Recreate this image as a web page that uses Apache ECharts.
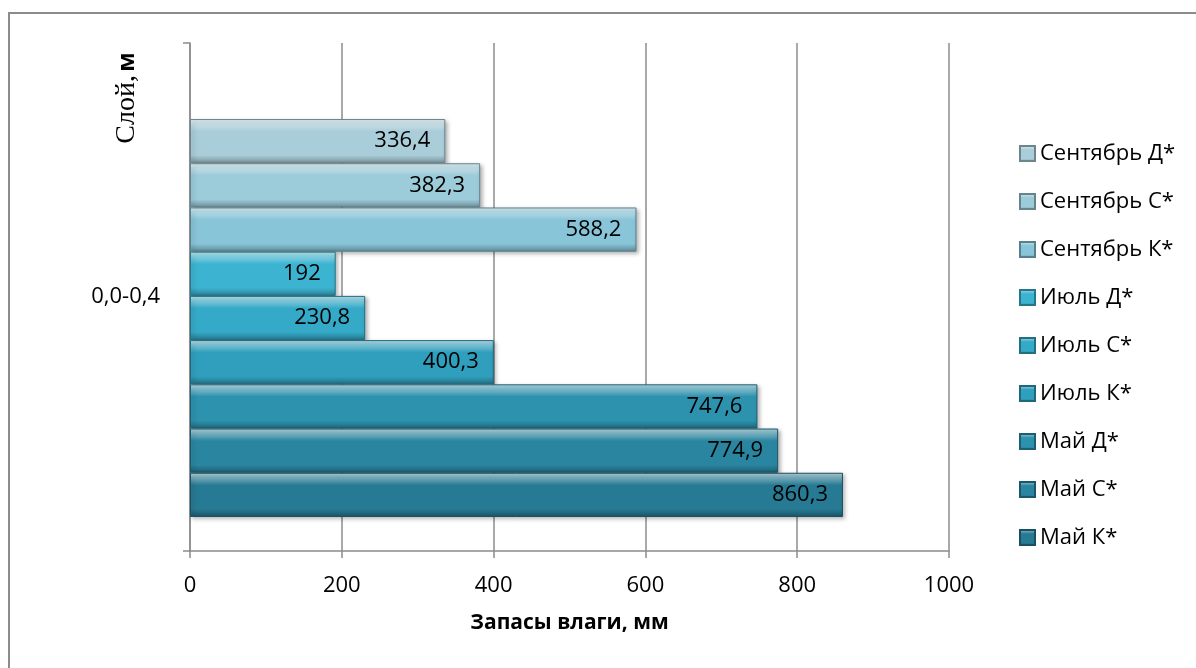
<!DOCTYPE html>
<html>
<head>
<meta charset="utf-8">
<script src="https://cdn.jsdelivr.net/npm/echarts@6/dist/echarts.min.js"></script>
<style>
  html, body { margin: 0; padding: 0; background: #fff; }
  #chart { width: 1196px; height: 668px; }
</style>
</head>
<body>
<div id="chart"></div>
<script>
// Soil layer category
const categories = ['0,0-0,4'];
// Series listed top-to-bottom as they appear in the band and the legend
const seriesNames = ['Сентябрь Д*', 'Сентябрь С*', 'Сентябрь К*', 'Июль Д*', 'Июль С*', 'Июль К*', 'Май Д*', 'Май С*', 'Май К*'];
const seriesValues = [336.4, 382.3, 588.2, 192, 230.8, 400.3, 747.6, 774.9, 860.3];
const seriesColors = ['#a9cdd9', '#9ccbd9', '#88c5d8', '#3cb4d1', '#35aac8', '#309fbd', '#2d92ae', '#2a86a0', '#277a93'];
// Value axis scale
const xMin = 0, xMax = 1000, xStep = 200;

const FONT = '"Open Sans", "Noto Sans", sans-serif';
const FS = 22;

function mix(hex, target, t) {
  const a = parseInt(hex.slice(1), 16);
  const r = (a >> 16) & 255, g = (a >> 8) & 255, b = a & 255;
  const f = (c, d) => Math.round(c + (d - c) * t);
  return 'rgb(' + f(r, target) + ',' + f(g, target) + ',' + f(b, target) + ')';
}

// Bevelled look: bright top edge, flat body, darker bottom edge
function bevel(base) {
  return new echarts.graphic.LinearGradient(0, 0, 0, 1, [
    { offset: 0, color: mix(base, 255, 0.65) },
    { offset: 0.12, color: mix(base, 255, 0.35) },
    { offset: 0.28, color: base },
    { offset: 0.82, color: base },
    { offset: 1, color: mix(base, 0, 0.3) }
  ]);
}

const chart = echarts.init(document.getElementById('chart'));

const series = seriesNames.map((name, i) => ({
  name: name,
  type: 'bar',
  xAxisIndex: 1,
  yAxisIndex: 1,
  data: [seriesValues[i]],
  barGap: '0%',
  barCategoryGap: '14.6%',
  itemStyle: {
    color: bevel(seriesColors[i]),
    borderColor: mix(seriesColors[i], 0, 0.35),
    borderWidth: 1,
    shadowColor: 'rgba(0,0,0,0.3)',
    shadowBlur: 4,
    shadowOffsetX: 2,
    shadowOffsetY: 2
  },
  label: {
    show: true,
    position: 'insideRight',
    distance: 15,
    color: '#000',
    fontFamily: FONT,
    fontSize: FS,
    formatter: p => String(p.value).replace('.', ',')
  },
  emphasis: { disabled: true }
}));

chart.setOption({
  animation: false,
  backgroundColor: '#fff',
  grid: [
    { left: 190, right: 247, top: 43, bottom: 117 },
    { left: 190, right: 247, top: 85, bottom: 117 }
  ],
  legend: {
    orient: 'vertical',
    left: 1014,
    top: 137,
    itemWidth: 15,
    itemHeight: 15,
    itemGap: 25,
    icon: 'rect',
    data: seriesNames,
    textStyle: { fontFamily: FONT, fontSize: FS, color: '#000', lineHeight: 23 }
  },
  xAxis: [
    {
      gridIndex: 0,
      type: 'value',
      min: xMin, max: xMax, interval: xStep,
      name: 'Запасы влаги, мм',
      nameLocation: 'middle',
      nameGap: 62,
      nameTextStyle: { fontFamily: FONT, fontSize: 21, fontWeight: 'bold', color: '#000' },
      axisLine: { show: true, lineStyle: { color: '#8c8c8c', width: 1.5 } },
      axisTick: { show: true, length: 7, lineStyle: { color: '#8c8c8c', width: 1.5 } },
      axisLabel: { fontFamily: FONT, fontSize: FS, color: '#000', margin: 24, formatter: v => String(v) },
      splitLine: { show: true, lineStyle: { color: '#8c8c8c', width: 1.5 } }
    },
    { gridIndex: 1, type: 'value', min: xMin, max: xMax, show: false, splitLine: { show: false } }
  ],
  yAxis: [
    {
      gridIndex: 0,
      type: 'category',
      data: categories,
      axisLine: { show: true, lineStyle: { color: '#8c8c8c', width: 1.5 } },
      axisTick: { show: true, length: 7, lineStyle: { color: '#8c8c8c', width: 1.5 } },
      axisLabel: { fontFamily: FONT, fontSize: FS, color: '#000', margin: 30 }
    },
    { gridIndex: 1, type: 'category', data: categories, show: false }
  ],
  graphic: [
    {
      type: 'rect',
      shape: { x: 9, y: 13, width: 1250, height: 720 },
      style: { fill: 'none', stroke: '#8c8c8c', lineWidth: 2 },
      silent: true,
      z: -10
    },
    {
      type: 'text',
      x: 127,
      y: 98,
      rotation: Math.PI / 2,
      style: {
        text: '{a|Слой,} {b|м}',
        align: 'center',
        verticalAlign: 'middle',
        rich: {
          a: { fontFamily: '"Liberation Serif", "DejaVu Serif", serif', fontSize: 28, fill: '#000' },
          b: { fontFamily: FONT, fontSize: 23, fontWeight: 'bold', fill: '#000' }
        }
      }
    }
  ],
  series: series
});
</script>
</body>
</html>
